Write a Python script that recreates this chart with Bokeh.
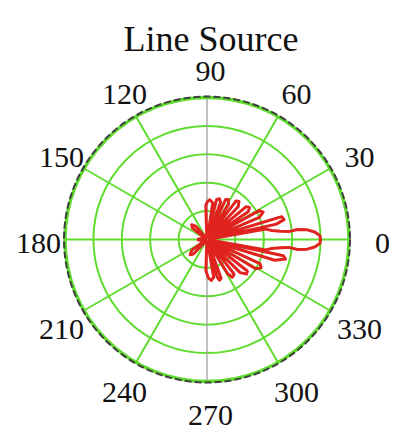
import numpy as np
from bokeh.plotting import figure
from bokeh.models import Range1d
from bokeh.core.properties import value
from bokeh.embed import file_html
from bokeh.resources import INLINE

# ---- chart content -------------------------------------------------------
title_text = "Line Source"

# grid rings as fractions of the full radius (outer ring = 1.0)
ring_levels = [0.2, 0.4, 0.6, 0.8]
outer_level = 1.0

# angular grid every 30 degrees, with their labels
spoke_deg = [0, 30, 60, 90, 120, 150, 180, 210, 240, 270, 300, 330]
tick_labels = ["0", "30", "60", "90", "120", "150", "180",
               "210", "240", "270", "300", "330"]

# radiation pattern of the line source: angle (deg) and normalised radius
pattern_deg = [-180, -170, -158, -145, -138, -133, -120,
               -95, -92, -88, -84, -80, -77,
               -75, -73, -70, -66,
               -59, -56, -52, -48,
               -45, -41, -38, -33,
               -31, -27.5, -24.5, -20,
               -17, -14, -12, -11,
               -10, -8, -6.5, -5.5, -6.3, -5.5, -4, -2, 0,
               2, 4, 5.5, 6.3, 5.5, 6.5, 8, 10,
               11, 12.5, 14.5, 17, 19.5,
               23, 26, 29, 31.5,
               34, 37, 40, 43,
               46.5, 50, 53, 56,
               58.5, 62, 65, 67.5,
               70, 73, 76.5, 79,
               81, 86, 89, 92, 95,
               120, 130, 136, 142, 155, 170, 180]
pattern_r = [0.07, 0.04, 0.01, 0.13, 0.16, 0.14, 0.01,
             0.02, 0.22, 0.27, 0.29, 0.27, 0.02,
             0.27, 0.30, 0.29, 0.02,
             0.28, 0.32, 0.31, 0.02,
             0.33, 0.37, 0.36, 0.02,
             0.40, 0.43, 0.41, 0.02,
             0.50, 0.57, 0.55, 0.02,
             0.42, 0.46, 0.52, 0.58, 0.64, 0.71, 0.76, 0.795, 0.80,
             0.795, 0.76, 0.71, 0.64, 0.58, 0.52, 0.46, 0.42,
             0.02, 0.50, 0.56, 0.55, 0.02,
             0.40, 0.44, 0.42, 0.02,
             0.35, 0.375, 0.36, 0.02,
             0.32, 0.35, 0.34, 0.02,
             0.29, 0.32, 0.31, 0.02,
             0.28, 0.30, 0.29, 0.02,
             0.26, 0.28, 0.27, 0.24, 0.02,
             0.01, 0.12, 0.15, 0.13, 0.01, 0.04, 0.07]

# ---- layout ---------------------------------------------------------------
W, H = 395, 437
R_PX = 142.0              # pixels per unit radius
CX, CY = 206.5, 239.0     # pole position, pixels from the top-left corner
LAB_CX, LAB_CY = 210.0, 243.0
LAB_R = 172.0

GREEN = "#5fdc2e"
RED = "#e0231f"

x_start, x_end = -CX / R_PX, (W - CX) / R_PX
y_start, y_end = -(H - CY) / R_PX, CY / R_PX

p = figure(width=W, height=H,
           x_range=Range1d(x_start, x_end), y_range=Range1d(y_start, y_end),
           output_backend="svg", toolbar_location=None,
           x_axis_location=None, y_axis_location=None,
           min_border=0)
p.grid.visible = False
p.outline_line_color = None
p.background_fill_color = "white"
p.border_fill_color = "white"

# rings
n = len(ring_levels)
p.circle(x=[0] * n, y=[0] * n, radius=ring_levels,
         fill_color=None, line_color=GREEN, line_width=2.0)

# spokes (the vertical 90/270 axis is drawn separately in grey)
sp = [a for a in spoke_deg if a not in (90, 270)]
sp_rad = np.deg2rad(sp)
p.segment(x0=[0] * len(sp), y0=[0] * len(sp),
          x1=outer_level * np.cos(sp_rad), y1=outer_level * np.sin(sp_rad),
          line_color=GREEN, line_width=2.0)
p.segment(x0=[0], y0=[-outer_level], x1=[0], y1=[outer_level],
          line_color="#a0a0a0", line_width=1.3)

# outer boundary: green ring with a dark dashed edge
p.circle(x=[0], y=[0], radius=[outer_level],
         fill_color=None, line_color=GREEN, line_width=3.4)
p.circle(x=[0], y=[0], radius=[outer_level + 1.0 / R_PX],
         fill_color=None, line_color="#3f3f3f", line_width=2.0,
         line_dash="7 3")

# pattern
th = np.deg2rad(pattern_deg)
rr = np.array(pattern_r)
p.line(rr * np.cos(th), rr * np.sin(th), line_color=RED, line_width=3.0,
       line_join="round")

# angle labels
lab_rad = np.deg2rad(spoke_deg)
lx = (LAB_CX - CX + LAB_R * np.cos(lab_rad)) / R_PX
ly = (CY - LAB_CY + LAB_R * np.sin(lab_rad)) / R_PX
p.text(x=lx, y=ly, text=tick_labels,
       text_font=value("Liberation Serif"), text_font_size="30px",
       text_align="center", text_baseline="middle", text_color="#111111")

# title
p.text(x=[(210.5 - CX) / R_PX], y=[(CY - 38.5) / R_PX], text=[title_text],
       text_font=value("Liberation Serif"), text_font_size="36px",
       text_align="center", text_baseline="alphabetic", text_color="#111111")

open("out.html", "w").write(file_html(p, INLINE))
